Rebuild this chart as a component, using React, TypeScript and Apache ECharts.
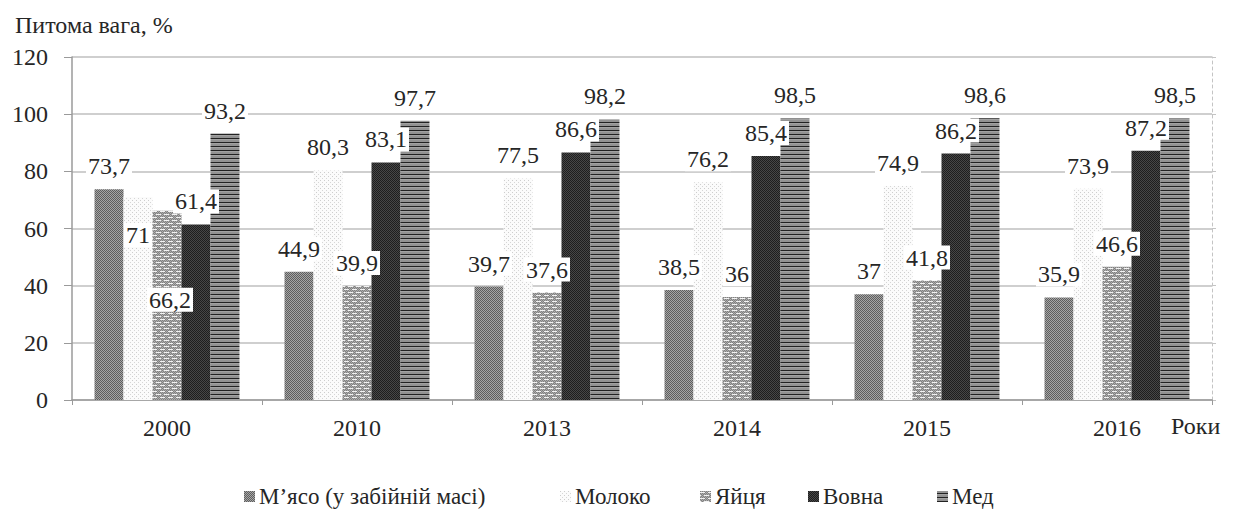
import React, { useEffect, useRef } from "react";
import * as echarts from "echarts";

// Роки та частки (%) за категоріями продукції
const years = ["2000", "2010", "2013", "2014", "2015", "2016"];
const meat = [73.7, 44.9, 39.7, 38.5, 37, 35.9];
const milk = [71, 80.3, 77.5, 76.2, 74.9, 73.9];
const eggs = [66.2, 39.9, 37.6, 36, 41.8, 46.6];
const wool = [61.4, 83.1, 86.6, 85.4, 86.2, 87.2];
const honey = [93.2, 97.7, 98.2, 98.5, 98.6, 98.5];
const seriesNames = ["М’ясо (у забійній масі)", "Молоко", "Яйця", "Вовна", "Мед"];
const yTicks = { min: 0, max: 120, interval: 20 };

const FONT = "Liberation Serif";
const TEXT = "#262626";

// Label shifts (px) for the crowded 2000 group, keyed by series then year index
const labelShift: Record<number, Record<number, [number, number]>> = {
  1: { 0: [0, 61] },
  2: { 0: [3, 112] },
};

// Left edge of each legend entry along the bottom row
const legendLeft = [239, 555, 695, 803, 932];

type Px = [number, number, string];

function makePattern(w: number, h: number, base: string, px: Px[]) {
  const c = document.createElement("canvas");
  c.width = w;
  c.height = h;
  const ctx = c.getContext("2d")!;
  ctx.fillStyle = base;
  ctx.fillRect(0, 0, w, h);
  for (const [x, y, col] of px) {
    ctx.fillStyle = col;
    ctx.fillRect(x, y, 1, 1);
  }
  return { image: c, imageWidth: w, imageHeight: h, repeat: "repeat" } as any;
}

function buildPatterns() {
  // М'ясо: medium grey fine checker
  const meatP = makePattern(2, 2, "#a6a6a6", [
    [0, 0, "#5e5e5e"],
    [1, 1, "#5e5e5e"],
  ]);
  // Молоко: almost white with sparse light dots
  const milkP = makePattern(4, 4, "#fbfbfb", [
    [0, 0, "#cdcdcd"],
    [2, 2, "#d6d6d6"],
  ]);
  // Яйця: grey brick
  const eggPx: Px[] = [];
  for (let x = 0; x < 8; x++) {
    for (let y = 0; y < 6; y++) {
      if ((x + y) % 2 === 0) eggPx.push([x, y, "#808080"]);
    }
    if (x < 5) eggPx.push([x, 1, "#f2f2f2"]);
    if (x >= 4 || x < 1) eggPx.push([x, 4, "#f2f2f2"]);
  }
  const eggsP = makePattern(8, 6, "#adadad", eggPx);
  // Вовна: dark fine checker
  const woolP = makePattern(2, 2, "#474747", [
    [0, 0, "#1e1e1e"],
    [1, 1, "#1e1e1e"],
  ]);
  // Мед: horizontal stripes
  const honeyPx: Px[] = [];
  for (let x = 0; x < 4; x++) {
    honeyPx.push([x, 2, "#222222"]);
    honeyPx.push([x, 3, "#a2a2a2"]);
  }
  const honeyP = makePattern(4, 4, "#929292", honeyPx);
  return [meatP, milkP, eggsP, woolP, honeyP];
}

const fmt = (v: number) => String(v).replace(".", ",");

export default function App() {
  const ref = useRef<HTMLDivElement>(null);

  useEffect(() => {
    if (!ref.current) return;
    const chart = echarts.init(ref.current, null, { renderer: "svg" });
    const patterns = buildPatterns();
    const values = [meat, milk, eggs, wool, honey];

    const series = values.map((vals, si) => ({
      name: seriesNames[si],
      type: "bar",
      barGap: "0%",
      barCategoryGap: "23.7%",
      itemStyle: { color: patterns[si] },
      label: {
        show: true,
        position: "top",
        distance: 11,
        formatter: (p: any) => fmt(p.value),
        fontFamily: FONT,
        fontSize: 24,
        color: TEXT,
        backgroundColor: "#ffffff",
        padding: [0, 2],
      },
      data: vals.map((v, i) => {
        const shift = labelShift[si]?.[i];
        return shift ? { value: v, label: { offset: shift } } : v;
      }),
    }));

    const legends = seriesNames.map((name, i) => ({
      left: legendLeft[i],
      top: 480,
      icon: "rect",
      itemWidth: 11,
      itemHeight: 11,
      itemGap: 0,
      textStyle: { fontFamily: FONT, fontSize: 23, color: TEXT, padding: [0, 0, 0, -1] },
      data: [name],
    }));

    chart.setOption({
      animation: false,
      backgroundColor: "#ffffff",
      title: {
        text: "Питома вага, %",
        left: 10,
        top: 8,
        textStyle: { fontFamily: FONT, fontSize: 24, fontWeight: "normal", color: TEXT },
      },
      legend: legends,
      grid: { left: 72, right: 27, top: 57, bottom: 115, containLabel: false },
      xAxis: {
        type: "category",
        data: years,
        axisLine: { lineStyle: { color: "#9a9a9a", width: 1.5 } },
        axisTick: { show: true, length: 5, lineStyle: { color: "#9a9a9a" } },
        axisLabel: { fontFamily: FONT, fontSize: 24, color: TEXT, margin: 16 },
      },
      yAxis: [
        {
          type: "value",
          min: yTicks.min,
          max: yTicks.max,
          interval: yTicks.interval,
          axisLine: { show: true, lineStyle: { color: "#9a9a9a", width: 1.5 } },
          axisTick: { show: true, length: 8, lineStyle: { color: "#9a9a9a" } },
          axisLabel: { fontFamily: FONT, fontSize: 24, color: TEXT, margin: 24 },
          splitLine: { lineStyle: { color: "#cfcfcf", width: 2 } },
        },
        {
          type: "value",
          position: "right",
          min: yTicks.min,
          max: yTicks.max,
          interval: yTicks.interval,
          axisLine: { show: true, lineStyle: { color: "#c4c4c4", type: [3, 3] } },
          axisTick: { show: true, length: 4, lineStyle: { color: "#c4c4c4" } },
          axisLabel: { show: false },
          splitLine: { show: false },
        },
      ],
      graphic: [
        {
          type: "text",
          left: 1171,
          top: 414,
          style: { text: "Роки", fontFamily: FONT, fontSize: 24, fill: TEXT },
        },
      ],
      series,
    } as any);

    return () => chart.dispose();
  }, []);

  return (
    <div
      ref={ref}
      style={{ position: "fixed", left: 0, top: 0, width: 1239, height: 515, background: "#fff" }}
    />
  );
}
